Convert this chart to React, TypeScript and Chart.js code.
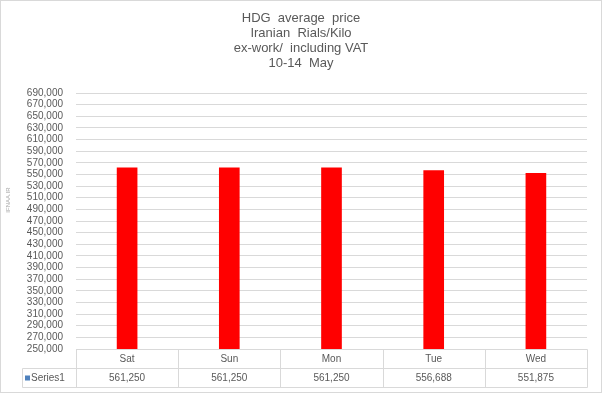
import React, { useEffect, useRef } from "react";
import { Chart, registerables } from "chart.js";

Chart.register(...registerables);

const categories = ["Sat", "Sun", "Mon", "Tue", "Wed"];
const seriesName = "Series1";
const values = [561250, 561250, 561250, 556688, 551875];
const titleLines = ["HDG  average  price", "Iranian  Rials/Kilo", "ex-work/  including VAT", "10-14  May"];
const yMin = 250000;
const yMax = 690000;
const yStep = 20000;
const watermark = "IFNAA.IR";

const FONT = "'Liberation Sans', Arial, sans-serif";
const TEXT = "#595959";
const LINE = "#d9d9d9";

const fmt = (v: number) => v.toLocaleString("en-US");

const decorPlugin = {
  id: "decor",
  afterDraw(chart: any) {
    const ctx = chart.ctx as CanvasRenderingContext2D;
    const { left, right, bottom } = chart.chartArea;
    const W = chart.width;
    const H = chart.height;
    ctx.save();
    // outer border
    ctx.strokeStyle = LINE;
    ctx.lineWidth = 1;
    ctx.strokeRect(0.5, 0.5, W - 1, H - 1);

    // title
    ctx.fillStyle = TEXT;
    ctx.font = `13px ${FONT}`;
    ctx.textAlign = "center";
    ctx.textBaseline = "middle";
    titleLines.forEach((t, i) => ctx.fillText(t, W / 2, 18.5 + i * 15));

    // watermark
    ctx.save();
    ctx.translate(8, 200);
    ctx.rotate(-Math.PI / 2);
    ctx.font = `6px ${FONT}`;
    ctx.fillStyle = "#a6a6a6";
    ctx.fillText(watermark, 0, 0);
    ctx.restore();

    // data table
    const rowH = 19;
    const y0 = Math.round(bottom) + 0.5;
    const y1 = y0 + rowH;
    const y2 = y1 + rowH;
    const tblLeft = 22.5;
    const xs = chart.scales.x;
    const n = categories.length;
    const bounds: number[] = [];
    for (let i = 0; i <= n; i++) {
      const px = i === 0 ? left : i === n ? right : (xs.getPixelForValue(i - 1) + xs.getPixelForValue(i)) / 2;
      bounds.push(Math.round(px) + 0.5);
    }
    ctx.strokeStyle = LINE;
    ctx.lineWidth = 1;
    ctx.beginPath();
    ctx.moveTo(bounds[0], y0);
    ctx.lineTo(bounds[n], y0);
    ctx.moveTo(tblLeft, y1);
    ctx.lineTo(bounds[n], y1);
    ctx.moveTo(tblLeft, y2);
    ctx.lineTo(bounds[n], y2);
    ctx.moveTo(tblLeft, y1);
    ctx.lineTo(tblLeft, y2);
    bounds.forEach((b) => {
      ctx.moveTo(b, y0);
      ctx.lineTo(b, y2);
    });
    ctx.stroke();

    ctx.fillStyle = TEXT;
    ctx.font = `10px ${FONT}`;
    ctx.textAlign = "center";
    ctx.textBaseline = "middle";
    categories.forEach((c, i) => {
      const cx = xs.getPixelForValue(i);
      ctx.fillText(c, cx, (y0 + y1) / 2);
      ctx.fillText(fmt(values[i]), cx, (y1 + y2) / 2);
    });
    // legend key
    ctx.fillStyle = "#4f81bd";
    ctx.fillRect(25, (y1 + y2) / 2 - 2.5, 5, 5);
    ctx.fillStyle = TEXT;
    ctx.textAlign = "left";
    ctx.fillText(seriesName, 31, (y1 + y2) / 2);
    ctx.restore();
  },
};

export default function App() {
  const ref = useRef<HTMLCanvasElement | null>(null);
  useEffect(() => {
    document.body.style.margin = "0";
    const canvas = ref.current!;
    const chart = new Chart(canvas, {
      type: "bar",
      data: {
        labels: categories,
        datasets: [
          {
            label: seriesName,
            data: values,
            backgroundColor: "#ff0000",
            borderWidth: 0,
            barThickness: 20,
          },
        ],
      },
      options: {
        animation: false,
        responsive: false,
        devicePixelRatio: 1,
        layout: { padding: { top: 93, bottom: 44, left: 0, right: 15 } },
        plugins: {
          legend: { display: false },
          title: { display: false },
          tooltip: { enabled: false },
        },
        scales: {
          x: {
            grid: { display: false, drawTicks: false },
            border: { display: false },
            ticks: { display: false },
          },
          y: {
            min: yMin,
            max: yMax,
            afterFit: (s: any) => {
              s.width = 76;
            },
            grid: { color: LINE, drawTicks: false, lineWidth: 1 },
            border: { display: false },
            ticks: {
              stepSize: yStep,
              padding: 13,
              color: TEXT,
              font: { family: FONT, size: 10 },
              callback: (v: any) => fmt(Number(v)),
              autoSkip: false,
            },
          },
        },
      },
      plugins: [decorPlugin],
    });
    return () => chart.destroy();
  }, []);
  return (
    <div style={{ position: "absolute", left: 0, top: 0, width: 602, height: 393 }}>
      <canvas ref={ref} width={602} height={393} style={{ display: "block" }} />
    </div>
  );
}
